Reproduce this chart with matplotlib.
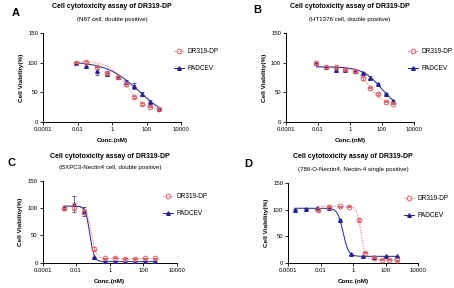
import numpy as np
import matplotlib
matplotlib.use("Agg")
import matplotlib.pyplot as plt
from matplotlib.lines import Line2D

plt.rcParams["font.family"] = ["Liberation Sans", "DejaVu Sans"]

# ---- data ----
conc_ab = [0.008, 0.032, 0.13, 0.51, 2.1, 6.4, 19, 57, 170, 510]

a_dr = [100, 101.5, 92, 83, 76, 63.5, 41.5, 30, 26, 22]
a_dr_err = [1, 2, 2, 2, 1.5, 2, 1.5, 1.5, 1.5, 1.5]
a_pad = [100, 95, 86.5, 81.5, 75.5, 68, 60, 47, 33, 21.5]
a_pad_err = [1.5, 2, 7, 4, 2.5, 3.5, 5, 4, 4, 2]

b_dr = [100, 93, 93, 88.5, 86.5, 73.5, 58, 47, 34.5, 31]
b_dr_err = [1.5, 1.5, 2, 1.5, 1.5, 2, 1.5, 1.5, 1.5, 1.5]
b_pad = [100, 93, 87, 87.5, 86.5, 82, 75, 64, 48, 35.5]
b_pad_err = [1.5, 1.5, 2.5, 2, 1.5, 1.5, 2, 1.5, 1.5, 1.5]

c_conc = [0.0019, 0.0076, 0.031, 0.12, 0.49, 1.95, 7.8, 31, 125, 500]
c_dr = [100, 103, 94, 26, 8, 9, 7, 7, 8, 8]
c_dr_err = [1, 6, 4, 3, 1, 1, 1, 1, 1, 1]
c_pad = [100, 108, 94, 10, 2, 2, 2, 2, 2, 2]
c_pad_err = [1, 14, 8, 1, 0.5, 0.5, 0.5, 0.5, 0.5, 0.5]

d_dr_conc = [0.0075, 0.035, 0.15, 0.58, 2.3, 5.5, 19, 57, 165, 500]
d_dr = [99, 105, 106, 105, 80, 19, 9.5, 6, 5.5, 4.5]
d_dr_err = [1, 1, 1, 1, 1.5, 1.5, 1, 1, 1, 1]
d_pad_conc = [0.000256, 0.00128, 0.0064, 0.032, 0.16, 0.8, 4, 20, 100, 500]
d_pad = [100, 102, 102.5, 102.5, 80, 16, 12.5, 11, 12, 12]
d_pad_err = [1, 1, 1, 1, 1.5, 1, 1, 1, 1, 1]

# 4PL fit parameters (top, bottom, IC50, hill) estimated from the curves
fit_params = {
    "A": [(102, 20, 7, 0.85), (102, 0, 40, 0.45)],
    "B": [(93, 31, 14, 1.0), (93, 20, 92, 0.73)],
    "C": [(103, 7.5, 0.08, 3.0), (104, 2, 0.065, 3.4)],
    "D": [(106, 5.5, 3.1, 3.4), (102.5, 12, 0.245, 2.6)],
}

subtitles = {
    "A": "(N87 cell, double positive)",
    "B": "(HT1376 cell, double positive)",
    "C": "(BXPC3-Nectin4 cell, double positive)",
    "D": "(786-O-Nectin4, Nectin-4 single positive)",
}

title = "Cell cytotoxicity assay of DR319-DP"
xticks = [1e-4, 1e-2, 1, 1e2, 1e4]
xticklabels = ["0.0001", "0.01", "1", "100", "10000"]

DR_LINE = "#e58f9c"
DR_MARK = "#d9636b"
PAD = "#25238a"
DOTS = (0, (1.2, 1.2))

W, H = 454, 288
fig = plt.figure(figsize=(W / 100, H / 100), dpi=100)


def rect(x0, x1, ytop, ybot):
    return [x0 / W, 1 - ybot / H, (x1 - x0) / W, (ybot - ytop) / H]


def four_pl(x, p):
    top, bottom, ic50, hill = p
    return bottom + (top - bottom) / (1 + (x / ic50) ** hill)


panels = [
    ("A", rect(43, 181, 33, 122), conc_ab, a_dr, a_dr_err, conc_ab, a_pad, a_pad_err,
     (12, 13), 7, 20, (174, 48)),
    ("B", rect(286, 414, 33, 122), conc_ab, b_dr, b_dr_err, conc_ab, b_pad, b_pad_err,
     (253, 10), 7, 20, (408, 48)),
    ("C", rect(42.5, 177, 181, 262.7), c_conc, c_dr, c_dr_err, c_conc, c_pad, c_pad_err,
     (8, 163), 156, 168, (163, 193)),
    ("D", rect(288, 418, 183, 262.7), d_dr_conc, d_dr, d_dr_err, d_pad_conc, d_pad, d_pad_err,
     (244, 164), 157, 169, (404, 195)),
]

for (key, r, xd, yd, ed, xp, yp, ep, letter_xy, ty, sy, leg_xy) in panels:
    ax = fig.add_axes(r)
    ax.set_xscale("log")
    ax.set_xlim(1e-4, 1e4)
    ax.set_ylim(0, 150)

    # fitted curves
    p_dr, p_pad = fit_params[key]
    xs = np.logspace(np.log10(min(xd)), np.log10(max(xd)), 200)
    ax.plot(xs, four_pl(xs, p_dr), color=DR_LINE, lw=0.8, ls=DOTS)
    xs = np.logspace(np.log10(min(xp)), np.log10(max(xp)), 200)
    ax.plot(xs, four_pl(xs, p_pad), color=PAD, lw=0.7)

    # points with error bars
    ax.errorbar(xp, yp, yerr=ep, fmt="^", ms=2.6, color=PAD, mfc=PAD, mec=PAD,
                elinewidth=0.5, capsize=1.2, capthick=0.5, zorder=3)
    ax.errorbar(xd, yd, yerr=ed, fmt="o", ms=3.4, color=DR_MARK, mfc="none",
                mec=DR_MARK, mew=0.7, elinewidth=0.5, capsize=1.2, capthick=0.5,
                zorder=4)

    ax.set_xticks(xticks)
    ax.set_xticklabels(xticklabels)
    ax.minorticks_off()
    ax.set_yticks([0, 50, 100, 150])
    ax.tick_params(labelsize=4.3, length=2, width=0.6, pad=1.5)
    for s in ["top", "right"]:
        ax.spines[s].set_visible(False)
    for s in ["left", "bottom"]:
        ax.spines[s].set_linewidth(0.7)

    ax.set_xlabel("Conc.(nM)", fontsize=4.6, fontweight="bold", labelpad=4.5)
    ax.set_ylabel("Cell Viability(%)", fontsize=4.6, fontweight="bold", labelpad=3)

    cx = (r[0] + r[2] / 2)
    fig.text(cx, 1 - ty / H, title, ha="center", va="center", fontsize=5,
             fontweight="bold")
    fig.text(cx, 1 - sy / H, subtitles[key], ha="center", va="center", fontsize=4.4)
    fig.text(letter_xy[0] / W, 1 - letter_xy[1] / H, key, ha="left", va="center",
             fontsize=8, fontweight="bold")

    handles = [
        Line2D([], [], color=DR_LINE, ls=DOTS, lw=0.8, marker="o", ms=3.4,
               mfc="none", mec=DR_MARK, mew=0.7, label="DR319-DP"),
        Line2D([], [], color=PAD, lw=0.7, marker="^", ms=2.6, mfc=PAD, mec=PAD,
               label="PADCEV"),
    ]
    ax.legend(handles=handles, loc="upper left", frameon=False, fontsize=4.7,
              bbox_to_anchor=(leg_xy[0] / W, 1 - leg_xy[1] / H),
              bbox_transform=fig.transFigure, borderpad=0, borderaxespad=0,
              handlelength=1.5, handletextpad=0.6, labelspacing=1.6)

fig.savefig("out.png", dpi=100)
